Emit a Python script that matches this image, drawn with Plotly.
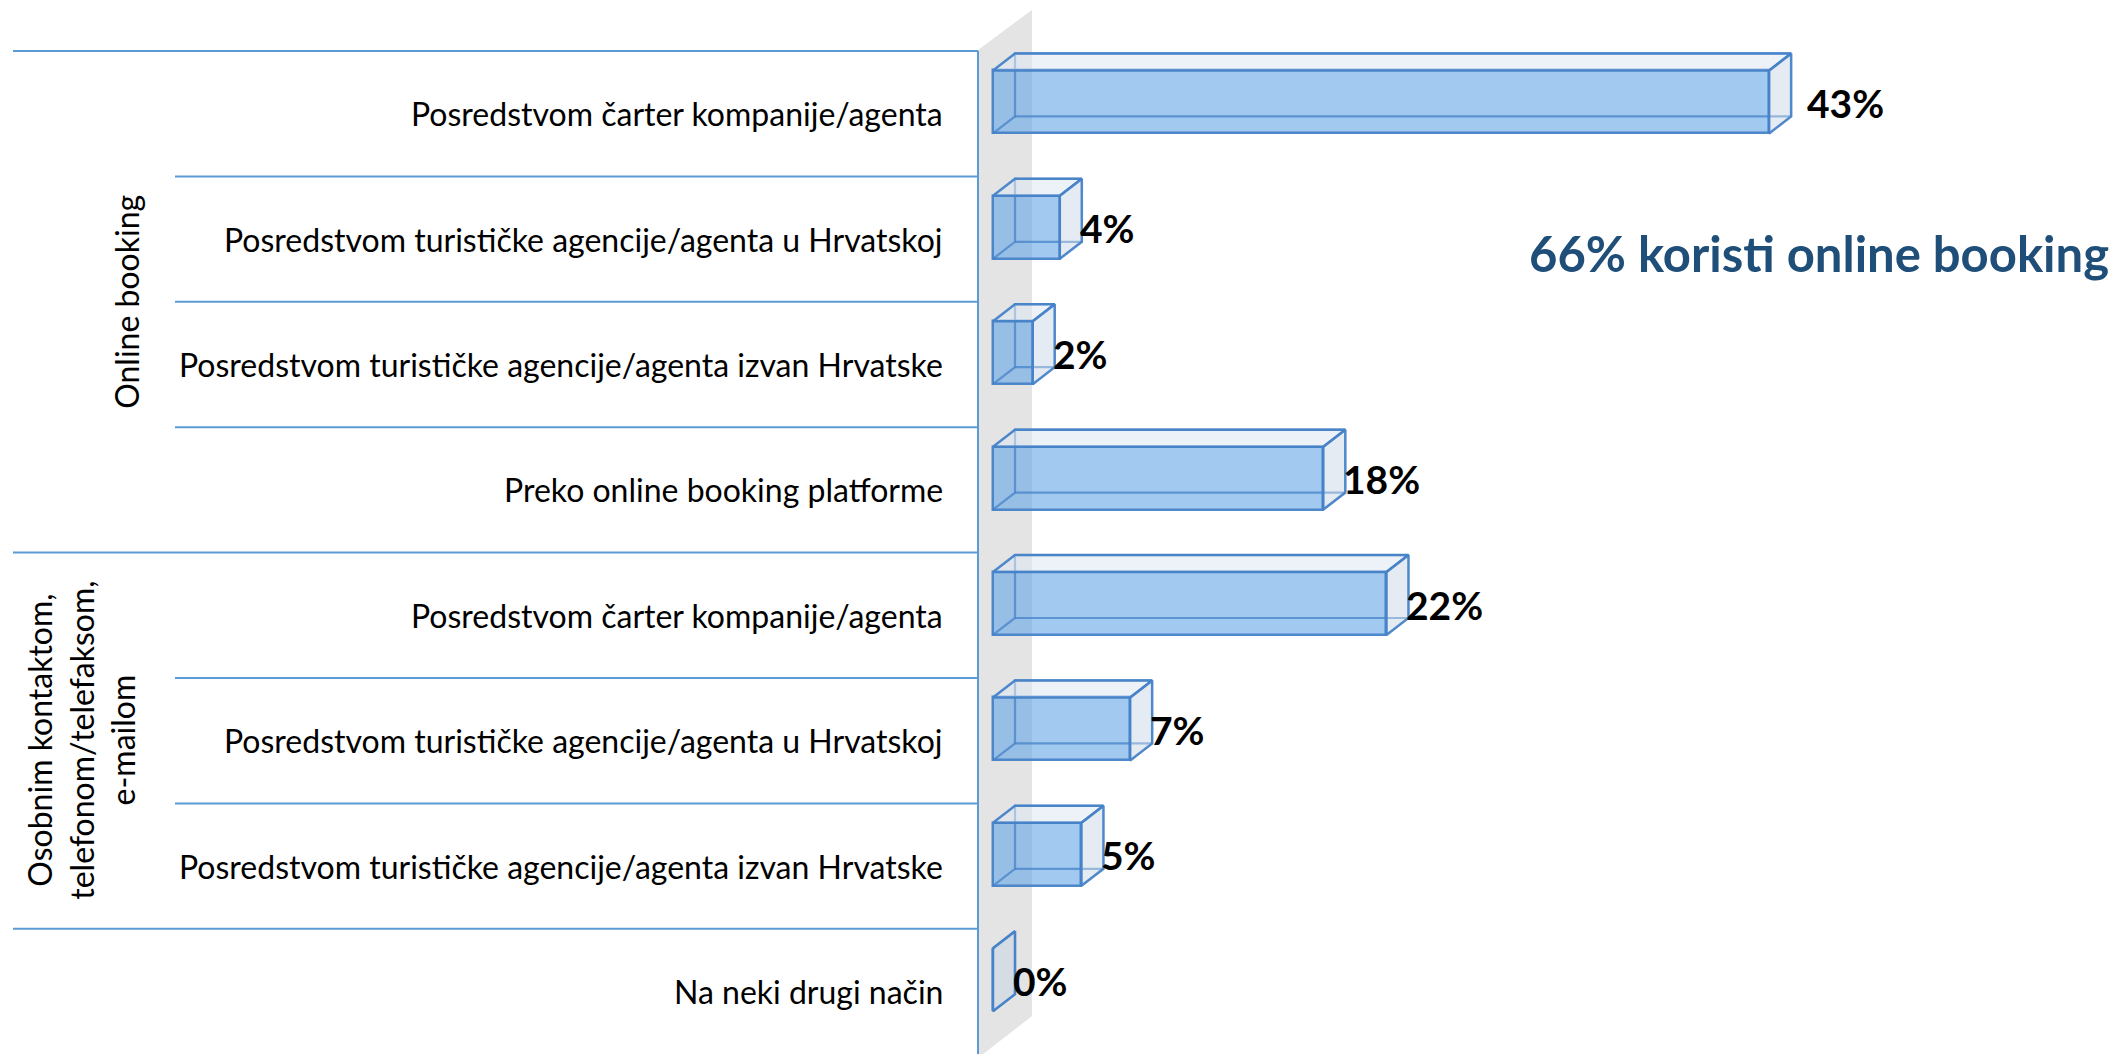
import plotly.graph_objects as go

# ---------------- data ----------------
categories = [
    "Posredstvom čarter kompanije/agenta",
    "Posredstvom turističke agencije/agenta u Hrvatskoj",
    "Posredstvom turističke agencije/agenta izvan Hrvatske",
    "Preko online booking platforme",
    "Posredstvom čarter kompanije/agenta",
    "Posredstvom turističke agencije/agenta u Hrvatskoj",
    "Posredstvom turističke agencije/agenta izvan Hrvatske",
    "Na neki drugi način",
]
values = [43.0, 3.7, 2.2, 18.3, 21.8, 7.6, 4.9, 0.0]
value_labels = ["43%", "4%", "2%", "18%", "22%", "7%", "5%", "0%"]
group_names = ["Online booking", "Osobnim kontaktom,<br>telefonom/telefaksom,<br>e-mailom"]
group_first_row = [0, 4]
group_last_row = [3, 6]
callout_text = "66% koristi online booking"

# ---------------- geometry (pixel frame of the 2116x1054 picture) ----------------
W, H = 2116, 1054
PX_PER_PCT = 18.05      # horizontal pixels per percentage point
X0_PX = 993             # pixel of value 0 on the bars' front plane
ROW_PX = 125.4          # pixel height of one category row
TOP_PX = 51             # pixel of the top of the first row


def px2x(px):
    return (px - X0_PX) / PX_PER_PCT


def px2y(py):
    return -0.5 + (py - TOP_PX) / ROW_PX


DX = 22 / PX_PER_PCT     # depth offset (x units)
DY = -17 / ROW_PX        # depth offset (y units, reversed axis)
BAR_OFF = -0.345
BAR_W = 0.502

EDGE = "rgba(70,130,200,0.95)"
LINE_BLUE = "#5B9BD5"
FONT = "Lato"

n = len(values)
rows = list(range(n))

fig = go.Figure()

# top faces, right faces, back edges
top_x, top_y, right_x, right_y, back_x, back_y = [], [], [], [], [], []
for i, v in zip(rows, values):
    yt = i + BAR_OFF
    yb = yt + BAR_W
    top_x += [0, v, v + DX, DX, 0, None]
    top_y += [yt, yt, yt + DY, yt + DY, yt, None]
    right_x += [v, v + DX, v + DX, v, v, None]
    right_y += [yt, yt + DY, yb + DY, yb, yt, None]
    back_x += [0, DX, DX, v + DX, None]
    back_y += [yb, yb + DY, yt + DY, yt + DY, None]
    back_x += [DX, v + DX, None]
    back_y += [yb + DY, yb + DY, None]

fig.add_trace(go.Bar(
    y=rows, x=values, orientation="h", base=0,
    width=BAR_W, offset=BAR_OFF,
    marker=dict(color="rgba(100,165,230,0.6)", line=dict(color=EDGE, width=2.5)),
    hoverinfo="skip",
))
fig.add_trace(go.Scatter(x=back_x, y=back_y, mode="lines",
                         line=dict(color="rgba(70,130,200,0.75)", width=2.2),
                         hoverinfo="skip"))
fig.add_trace(go.Scatter(x=top_x, y=top_y, mode="lines", fill="toself",
                         fillcolor="rgba(222,232,243,0.55)",
                         line=dict(color=EDGE, width=2.5), hoverinfo="skip"))
fig.add_trace(go.Scatter(x=right_x, y=right_y, mode="lines", fill="toself",
                         fillcolor="rgba(196,210,226,0.45)",
                         line=dict(color=EDGE, width=2.5), hoverinfo="skip"))

shapes = []
# gray side wall
shapes.append(dict(
    type="path", xref="x", yref="y", layer="below",
    path=(f"M {px2x(978)},{px2y(50)} L {px2x(1032)},{px2y(10)} "
          f"L {px2x(1032)},{px2y(1016)} L {px2x(978)},{px2y(1058)} Z"),
    fillcolor="#E4E4E4", line=dict(width=0),
))
# axis line
shapes.append(dict(type="line", xref="x", yref="y", x0=px2x(978), x1=px2x(978),
                   y0=-0.5, y1=n - 0.5 + 0.2, line=dict(color=LINE_BLUE, width=2)))
# row dividers
full_rows = set(group_first_row) | {n - 1}
for i in rows:
    left_px = 13 if i in full_rows else 175
    shapes.append(dict(type="line", xref="x", yref="y", x0=px2x(left_px), x1=px2x(978),
                       y0=i - 0.5, y1=i - 0.5, line=dict(color=LINE_BLUE, width=2)))

annotations = []
# category labels
for i, c in zip(rows, categories):
    annotations.append(dict(x=px2x(945), y=i, xref="x", yref="y", text=c,
                            showarrow=False, xanchor="right", yanchor="middle",
                            font=dict(family=FONT, size=32, color="#000000")))
# value labels
for i, v, t in zip(rows, values, value_labels):
    annotations.append(dict(x=v + DX, y=i + BAR_OFF + BAR_W / 2, xref="x", yref="y",
                            text=f"<b>{t}</b>", showarrow=False,
                            xanchor="left", yanchor="middle",
                            xshift=14 if i == 0 else -4, yshift=-1,
                            font=dict(family=FONT, size=39, color="#000000")))
# group labels
group_x_px = [127, 81]
for g, a, b, gx in zip(group_names, group_first_row, group_last_row, group_x_px):
    annotations.append(dict(x=px2x(gx), y=(a + b) / 2, xref="x", yref="y", text=g,
                            textangle=-90, showarrow=False,
                            xanchor="center", yanchor="middle",
                            font=dict(family=FONT, size=32, color="#000000")))
# callout
annotations.append(dict(x=1527 / W, y=1 - 253 / H, xref="paper", yref="paper",
                        text=f"<b>{callout_text}</b>", showarrow=False,
                        xanchor="left", yanchor="middle",
                        font=dict(family=FONT, size=49, color="#1F4E79")))

fig.update_layout(
    width=W, height=H,
    margin=dict(l=0, r=0, t=0, b=0, pad=0),
    paper_bgcolor="white", plot_bgcolor="white",
    showlegend=False,
    shapes=shapes, annotations=annotations,
    xaxis=dict(range=[px2x(0), px2x(W)], visible=False, fixedrange=True),
    yaxis=dict(range=[px2y(H), px2y(0)], visible=False, fixedrange=True),
    bargap=0,
)

fig.write_html("out.html", config={"displayModeBar": False},
               post_script="document.body.style.margin='0';")
